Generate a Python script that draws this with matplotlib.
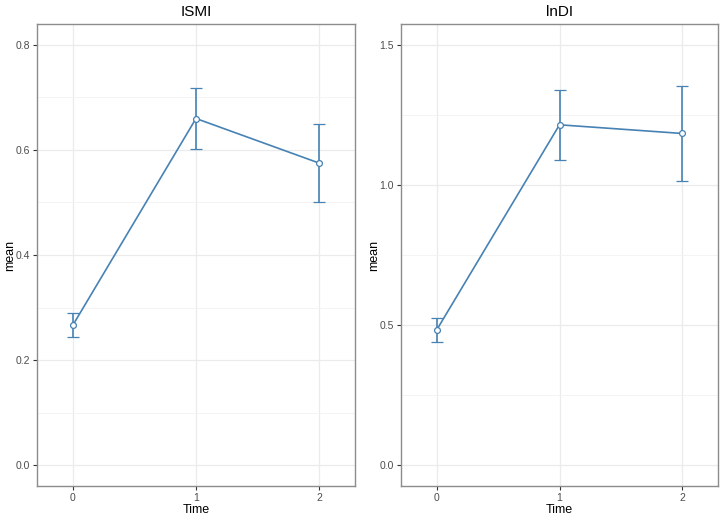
"""ISMI / lnDI mean by Time with error bars"""
import matplotlib
matplotlib.use("Agg")
import matplotlib.pyplot as plt
from matplotlib.ticker import MultipleLocator

plt.rcParams["font.family"] = ["Liberation Sans", "DejaVu Sans"]

time = [0, 1, 2]

ismi_mean = [0.266, 0.660, 0.575]
ismi_low = [0.243, 0.601, 0.501]
ismi_high = [0.290, 0.719, 0.650]

lndi_mean = [0.482, 1.215, 1.184]
lndi_low = [0.438, 1.091, 1.016]
lndi_high = [0.524, 1.341, 1.355]

panels = [
    ("ISMI", ismi_mean, ismi_low, ismi_high, 0.8, 0.2, 0.1),
    ("lnDI", lndi_mean, lndi_low, lndi_high, 1.5, 0.5, 0.25),
]

color = "#4682B4"
W, H = 724, 516
fig = plt.figure(figsize=(W / 100, H / 100), dpi=100)

# axes positions in pixels: (left, right)
boxes = [(37, 355), (401, 718)]
top, bottom = 24, 486

for (title, mean, low, high, ymax, major, minor), (x0, x1) in zip(panels, boxes):
    ax = fig.add_axes([x0 / W, 1 - bottom / H, (x1 - x0) / W, (bottom - top) / H])
    yerr = [[m - l for m, l in zip(mean, low)], [h - m for m, h in zip(mean, high)]]
    ax.errorbar(time, mean, yerr=yerr, color=color, lw=1.2, capsize=4.4,
                capthick=1.2, elinewidth=1.2, zorder=3, marker="o", ms=4.2,
                mfc="white", mec=color, mew=0.9)
    pad = ymax * 0.05
    ax.set_ylim(-pad, ymax + pad)
    ax.set_xlim(-0.29, 2.29)
    ax.set_xticks(time)
    ax.yaxis.set_major_locator(MultipleLocator(major))
    ax.yaxis.set_minor_locator(MultipleLocator(minor))
    ax.yaxis.set_major_formatter(lambda v, p: f"{v:.1f}")
    ax.grid(which="major", color="#EBEBEB", lw=0.9)
    ax.grid(which="minor", axis="y", color="#F3F3F3", lw=0.6)
    ax.set_axisbelow(True)
    for s in ax.spines.values():
        s.set_color("#8C8C8C")
        s.set_linewidth(1.0)
    ax.tick_params(which="major", length=3, width=0.8, color="#333333",
                   labelsize=7.5, labelcolor="#4D4D4D", pad=2)
    ax.tick_params(which="minor", length=0)
    ax.set_title(title, fontsize=11, pad=6)
    ax.set_xlabel("Time", fontsize=9, labelpad=1)
    ax.set_ylabel("mean", fontsize=9)
    ax.yaxis.set_label_coords(-0.066, 0.5)

fig.savefig("out.png", dpi=100, facecolor="white")
